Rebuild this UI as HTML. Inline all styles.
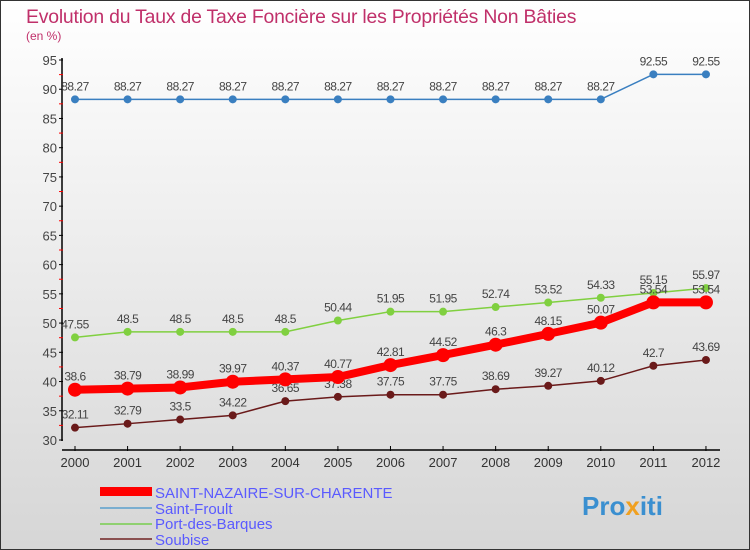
<!DOCTYPE html>
<html><head><meta charset="utf-8"><style>
body{margin:0;width:750px;height:550px;overflow:hidden;font-family:"Liberation Sans",sans-serif}
#c{position:absolute;left:0;top:0;width:748px;height:548px;border:1px solid #333;background:linear-gradient(#ffffff,#d6d6d6)}
</style></head><body>
<div id="c">
<svg id="s" width="750" height="550" style="position:absolute;left:-1px;top:-1px">
<text x="26" y="23" font-size="19.4" fill="#c0306a" letter-spacing="-0.2">Evolution du Taux de Taxe Foncière sur les Propriétés Non Bâties</text>
<text x="26" y="40" font-size="12" fill="#c0306a">(en %)</text>
<g id="axes"></g><g id="series"></g>
<g>
<rect x="100" y="487" width="52" height="9" fill="#f00"/>
<text x="155" y="498" font-size="15" fill="#5a5aff">SAINT-NAZAIRE-SUR-CHARENTE</text>
<rect x="100" y="507" width="52" height="2" fill="#7aaed0"/>
<text x="155" y="514" font-size="15" fill="#5a5aff">Saint-Froult</text>
<rect x="100" y="523" width="52" height="2" fill="#8fd070"/>
<text x="155" y="529" font-size="15" fill="#5a5aff">Port-des-Barques</text>
<rect x="100" y="538" width="52" height="2" fill="#8a5050"/>
<text x="155" y="545" font-size="15" fill="#5a5aff">Soubise</text>
</g>
<text x="582" y="515" font-size="26" font-weight="bold" fill="#3a8fd0">Pro<tspan fill="#f0a020">x</tspan>iti</text>
</svg></div>
<script>
const years=["2000","2001","2002","2003","2004","2005","2006","2007","2008","2009","2010","2011","2012"];
const yTicks=[30,35,40,45,50,55,60,65,70,75,80,85,90,95];
const nazaire=[38.6,38.79,38.99,39.97,40.37,40.77,42.81,44.52,46.3,48.15,50.07,53.54,53.54];
const froult=[88.27,88.27,88.27,88.27,88.27,88.27,88.27,88.27,88.27,88.27,88.27,92.55,92.55];
const barques=[47.55,48.5,48.5,48.5,48.5,50.44,51.95,51.95,52.74,53.52,54.33,55.15,55.97];
const soubise=[32.11,32.79,33.5,34.22,36.65,37.38,37.75,37.75,38.69,39.27,40.12,42.7,43.69];
const NS="http://www.w3.org/2000/svg";
const X=i=>75+i*52.58, Y=v=>440-(v-30)*380/65;
function mk(t,a,p){const e=document.createElementNS(NS,t);for(const k in a)e.setAttribute(k,a[k]);p.appendChild(e);return e;}
const ax=document.getElementById('axes');
let e=mk('line',{x1:62,y1:58,x2:62,y2:441,stroke:'#000','stroke-width':1.5},ax);

e=mk('line',{x1:62,y1:450,x2:720,y2:450,stroke:'#000','stroke-width':1.5},ax);

yTicks.forEach(v=>{mk('line',{x1:59,y1:Y(v),x2:63,y2:Y(v),stroke:'#000'},ax);
if(v<95)mk('line',{x1:59,y1:Y(v+2.5),x2:63,y2:Y(v+2.5),stroke:'#f00'},ax);
const t=mk('text',{x:57,y:Y(v)+5,'font-size':13,fill:'#444','text-anchor':'end'},ax);t.textContent=v;
});
years.forEach((y,i)=>{mk('line',{x1:X(i),y1:446,x2:X(i),y2:451,stroke:'#000'},ax);
const t=mk('text',{x:X(i),y:467,'font-size':13,fill:'#333','text-anchor':'middle'},ax);t.textContent=y;
});
const sg=document.getElementById('series');
function series(name,data,col,w,r){const g=mk('g',{},sg);

mk('polyline',{points:data.map((v,i)=>X(i)+','+Y(v)).join(' '),fill:'none',stroke:col,'stroke-width':w,'stroke-linejoin':'round'},g);
data.forEach((v,i)=>{const c=mk('circle',{cx:X(i),cy:Y(v),r:r,fill:col},g);

const t=mk('text',{x:X(i),y:Y(v)-9,'font-size':12,fill:'#444','text-anchor':'middle','letter-spacing':'-0.5'},g);t.textContent=v;
});}
series('saint-froult',froult,'#3a7fc0',1.5,4);
series('port-des-barques',barques,'#80d040',1.5,4);
series('soubise',soubise,'#6a1a1a',1.5,4);
series('saint-nazaire',nazaire,'#f00',8,7);
</script></body></html>
